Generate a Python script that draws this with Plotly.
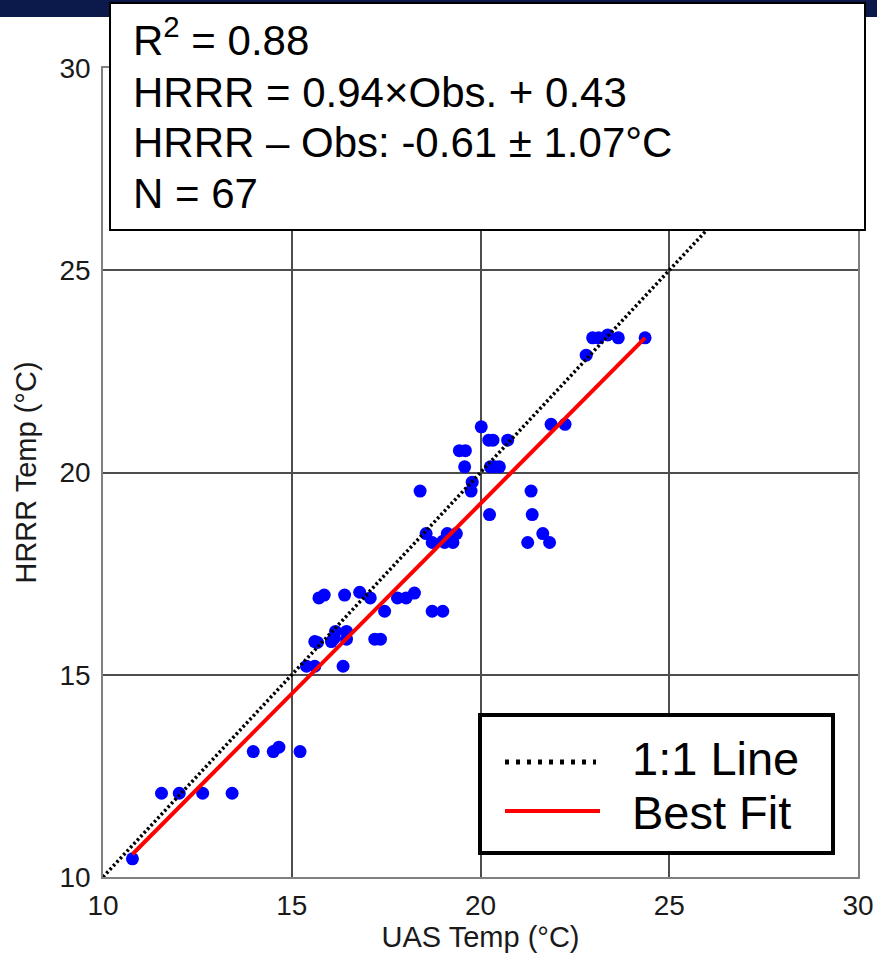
import plotly.graph_objects as go

# UAS observed vs HRRR model temperatures (°C)
uas_temp = [
    10.78, 11.55, 12.02, 12.64, 13.42, 13.98, 14.51, 14.66, 15.22,
    15.72, 15.86, 16.40, 16.80, 17.08, 17.80, 18.03, 18.25, 17.46, 18.72, 19.00,
    16.16, 16.45, 15.61, 15.68, 16.05, 16.12, 16.45, 17.20, 17.35,
    15.39, 15.61, 16.36,
    20.02, 20.22, 20.33, 20.72, 19.44, 19.60, 19.58, 20.26, 20.38, 20.50,
    19.78, 19.75, 18.40, 21.34, 20.24, 21.37, 21.65, 21.25, 21.83,
    18.56, 18.72, 19.05, 19.12, 19.27, 19.36, 19.00,
    21.87, 22.24,
    22.97, 23.13, 23.37, 23.65, 22.80, 24.36,
    19.20,
]
hrrr_temp = [
    10.45, 12.07, 12.07, 12.07, 12.07, 13.10, 13.10, 13.21, 13.10,
    16.90, 16.97, 16.97, 17.04, 16.90, 16.90, 16.90, 17.02, 16.57, 16.57, 16.57,
    16.07, 16.07, 15.82, 15.80, 15.82, 15.90, 15.88, 15.88, 15.88,
    15.21, 15.21, 15.21,
    21.13, 20.80, 20.80, 20.80, 20.54, 20.54, 20.14, 20.14, 20.14, 20.14,
    19.76, 19.54, 19.54, 19.54, 18.96, 18.96, 18.49, 18.27, 18.27,
    18.49, 18.27, 18.27, 18.49, 18.27, 18.49, 18.30,
    21.19, 21.19,
    23.33, 23.33, 23.40, 23.33, 22.90, 23.33,
    18.40,
]

# Regression statistics
r_squared = 0.88
fit_slope = 0.94
fit_intercept = 0.43
bias_mean = -0.61
bias_std = 1.07
n_obs = 67

axis_range = [10, 30]
tick_vals = [10, 15, 20, 25, 30]

FONT = "Liberation Sans, Arial, Helvetica, sans-serif"

fit_x = [min(uas_temp), max(uas_temp)]
fit_y = [fit_slope * v + fit_intercept for v in fit_x]

fig = go.Figure()

fig.add_trace(go.Scatter(
    x=uas_temp, y=hrrr_temp, mode="markers", name="Obs",
    marker=dict(color="#0000ff", size=13, line=dict(width=0)),
))
fig.add_trace(go.Scatter(
    x=axis_range, y=axis_range, mode="lines", name="1:1 Line",
    line=dict(color="black", width=3.5, dash="2.5px,2.5px"),
))
fig.add_trace(go.Scatter(
    x=fit_x, y=fit_y, mode="lines", name="Best Fit",
    line=dict(color="#ff0000", width=4),
))

# plot-area geometry in pixels, used for paper-coordinate placement
W, H = 877, 955
L, R, T, B = 103, 858, 68, 877


def px(xp):
    return (xp - L) / (R - L)


def py(yp):
    return (B - yp) / (B - T)


shapes = [
    # dark header band
    dict(type="rect", xref="paper", yref="paper", x0=px(0), x1=px(W), y0=py(17), y1=py(0),
         fillcolor="#0b1a4a", line=dict(width=0), layer="above"),
    # statistics box
    dict(type="rect", xref="paper", yref="paper", x0=px(110), x1=px(865), y0=py(230), y1=py(3),
         fillcolor="white", line=dict(color="black", width=2), layer="above"),
    # legend box
    dict(type="rect", xref="paper", yref="paper", x0=px(480), x1=px(833), y0=py(853), y1=py(715),
         fillcolor="white", line=dict(color="black", width=4), layer="above"),
    # legend samples
    dict(type="line", xref="paper", yref="paper", x0=px(505), x1=px(596), y0=py(762), y1=py(762),
         line=dict(color="black", width=5, dash="4px,7px"), layer="above"),
    dict(type="line", xref="paper", yref="paper", x0=px(505), x1=px(600), y0=py(811), y1=py(811),
         line=dict(color="#ff0000", width=4), layer="above"),
]

stat_lines = [
    f"R<sup>2</sup> = {r_squared:.2f}",
    f"HRRR = {fit_slope:.2f}×Obs. + {fit_intercept:.2f}",
    f"HRRR – Obs: {bias_mean:.2f} ± {bias_std:.2f}°C",
    f"N = {n_obs}",
]
stat_y = [37, 92, 142, 193]

annotations = []
for txt, yy in zip(stat_lines, stat_y):
    annotations.append(dict(
        text=txt, xref="paper", yref="paper", x=px(131), y=py(yy),
        xanchor="left", yanchor="middle", showarrow=False,
        font=dict(family=FONT, size=42, color="black"),
    ))

for txt, yy in [("1:1 Line", 758), ("Best Fit", 812)]:
    annotations.append(dict(
        text=txt, xref="paper", yref="paper", x=px(630), y=py(yy),
        xanchor="left", yanchor="middle", showarrow=False,
        font=dict(family=FONT, size=47, color="black"),
    ))

axis_common = dict(
    range=axis_range, tickvals=tick_vals, showgrid=True, automargin=False,
    gridcolor="#4d4d4d", gridwidth=1.5, zeroline=False,
    showline=True, mirror=True, linecolor="#808080", linewidth=1.5,
    ticks="", tickfont=dict(family=FONT, size=28, color="#1a1a1a"),
)

fig.update_layout(
    width=W, height=H,
    margin=dict(l=L, r=W - R, t=T, b=H - B),
    paper_bgcolor="white", plot_bgcolor="white",
    showlegend=False,
    xaxis=dict(**axis_common, ticklabelstandoff=3,
               title=dict(text="UAS Temp (°C)", font=dict(family=FONT, size=29, color="#1a1a1a"),
                          standoff=5)),
    yaxis=dict(**axis_common, ticklabelstandoff=5,
               title=dict(text="HRRR Temp (°C)", font=dict(family=FONT, size=29, color="#1a1a1a"),
                          standoff=14)),
    shapes=shapes,
    annotations=annotations,
)

# page without margins or scrollbars so the figure fills the window exactly
page_css = (
    "var s=document.createElement('style');"
    "s.textContent='html,body{margin:0;padding:0;overflow:hidden;}';"
    "document.head.appendChild(s);"
)
fig.write_html("out.html", post_script=page_css)
